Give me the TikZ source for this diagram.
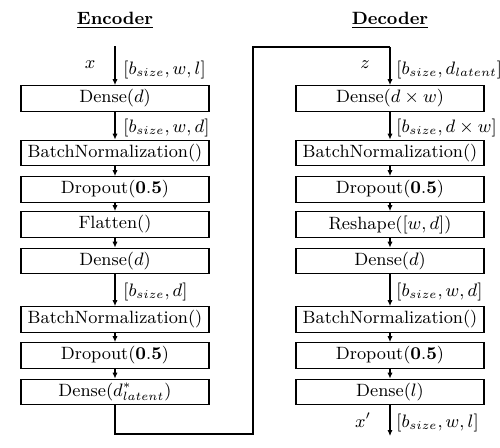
\documentclass[tikz,border=0pt]{standalone}
\usetikzlibrary{arrows.meta}
\begin{document}
\begin{tikzpicture}[x=0.5pt,y=-0.5pt,
  txt/.style={font=\fontsize{8.9}{10.7}\selectfont},
  layer/.style={txt, draw, line width=0.65pt, minimum width=94pt, minimum height=12.75pt, inner sep=0pt},
  flow/.style={line width=0.55pt, -{Latex[length=3pt,width=2.6pt]}},
  wire/.style={line width=0.65pt},
  dims/.style={font=\fontsize{8.6}{10.3}\selectfont, anchor=west, inner sep=0pt},
  varname/.style={txt, inner sep=0pt},
  title/.style={font=\fontsize{8.9}{10.7}\selectfont\bfseries}]
\useasboundingbox (0,0) rectangle (500,447);

% titles
\node[title] (tenc) at (115,20) {\underline{Encoder}};
\node[title] (tdec) at (390,20) {\underline{Decoder}};

% encoder stack
\node[layer] (e1) at (115,98.5)  {Dense($d$)};
\node[layer] (e2) at (115,153)   {BatchNormalization()};
\node[layer] (e3) at (115,189.5) {Dropout($\mathbf{0.5}$)};
\node[layer] (e4) at (115,224.5) {Flatten()};
\node[layer] (e5) at (115,261)   {Dense($d$)};
\node[layer] (e6) at (115,319.5) {BatchNormalization()};
\node[layer] (e7) at (115,355.5) {Dropout($\mathbf{0.5}$)};
\node[layer] (e8) at (115,392)   {Dense($d^{*}_{latent}$)};

% decoder stack
\node[layer] (d1) at (390,98.5)  {Dense($d\times w$)};
\node[layer] (d2) at (390,153)   {BatchNormalization()};
\node[layer] (d3) at (390,189.5) {Dropout($\mathbf{0.5}$)};
\node[layer] (d4) at (390,224.5) {Reshape($[w,d]$)};
\node[layer] (d5) at (390,261)   {Dense($d$)};
\node[layer] (d6) at (390,319.5) {BatchNormalization()};
\node[layer] (d7) at (390,355.5) {Dropout($\mathbf{0.5}$)};
\node[layer] (d8) at (390,392)   {Dense($l$)};

% free ends
\coordinate (xin) at (115,46);
\coordinate (xout) at (390,436);
\coordinate (c1) at (115,434);
\coordinate (c2) at (253,434);
\coordinate (c3) at (253,47);
\coordinate (c4) at (390,47);

% encoder arrows
\draw[flow] (xin) -- (e1);
\foreach \a/\b in {e1/e2,e2/e3,e3/e4,e4/e5,e5/e6,e6/e7,e7/e8}
  \draw[flow] (\a) -- (\b);

% latent link
\draw[wire] (e8.south) -- (c1) -- (c2) -- (c3) -- (c4);
\draw[flow] (c4) -- (d1);

% decoder arrows
\foreach \a/\b in {d1/d2,d2/d3,d3/d4,d4/d5,d5/d6,d6/d7,d7/d8}
  \draw[flow] (\a) -- (\b);
\draw[flow] (d8) -- (xout);

% variable names
\node[varname] (vx) at (90,65) {$x$};
\node[varname] (vz) at (365,65) {$z$};
\node[varname] (vxp) at (363,420) {$x'$};

% tensor shapes (tight commas)
\node[dims] (s1) at (123,70)  {$[b_{size}{,}\,w{,}\,l]$};
\node[dims] (s2) at (123,128) {$[b_{size}{,}\,w{,}\,d]$};
\node[dims] (s3) at (123,292) {$[b_{size}{,}\,d]$};
\node[dims] (s4) at (396,70)  {$[b_{size}{,}\,d_{latent}]$};
\node[dims] (s5) at (396,128) {$[b_{size}{,}\,d\times w]$};
\node[dims] (s6) at (396,292) {$[b_{size}{,}\,w{,}\,d]$};
\node[dims] (s7) at (396,423) {$[b_{size}{,}\,w{,}\,l]$};
\end{tikzpicture}
\end{document}
